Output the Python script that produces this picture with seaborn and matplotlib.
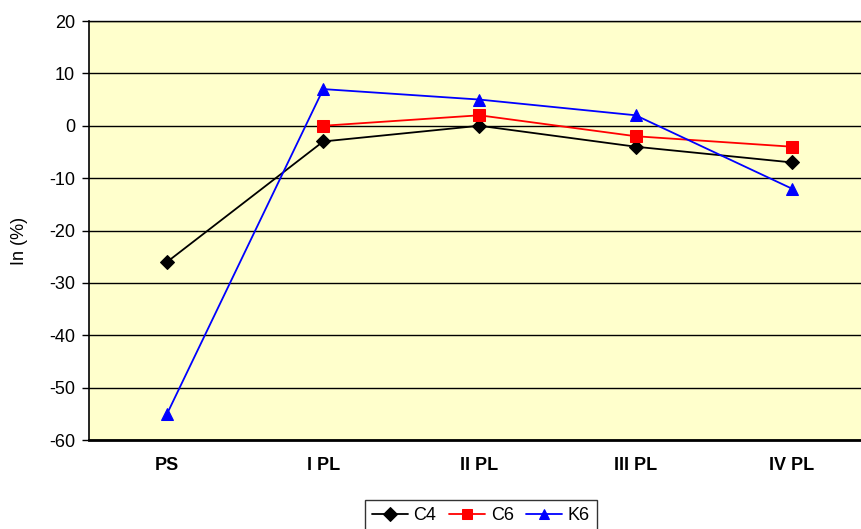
import numpy as np
import pandas as pd
import matplotlib
matplotlib.use("Agg")
import matplotlib.pyplot as plt
import seaborn as sns

categories = ["PS", "I PL", "II PL", "III PL", "IV PL"]
c4 = [-26, -3, 0, -4, -7]
c6 = [np.nan, 0, 2, -2, -4]
k6 = [-55, 7, 5, 2, -12]
series_names = ["C4", "C6", "K6"]
y_ticks = [20, 10, 0, -10, -20, -30, -40, -50, -60]

sns.set_theme(style="white")
plt.rcParams["font.family"] = ["Liberation Sans", "DejaVu Sans"]
plt.rcParams["axes.unicode_minus"] = False
plt.rcParams["text.color"] = "black"
plt.rcParams["axes.labelcolor"] = "black"
plt.rcParams["xtick.color"] = "black"
plt.rcParams["ytick.color"] = "black"

df = pd.DataFrame({
    "stage": categories * 3,
    "value": c4 + c6 + k6,
    "series": [s for s in series_names for _ in categories],
})

fig = plt.figure(figsize=(8.62, 5.29), dpi=100)
ax = fig.add_axes([0.1032, 0.1682, 0.906, 0.7921])
ax.set_facecolor("#FFFFCC")

palette = {"C4": "black", "C6": "#FF0000", "K6": "#0000FF"}
markers = {"C4": "D", "C6": "s", "K6": "^"}
sizes = {"C4": 7, "C6": 9, "K6": 9}

for name in series_names:
    sub = df[df["series"] == name].dropna()
    sns.lineplot(data=sub, x="stage", y="value", ax=ax, color=palette[name],
                 marker=markers[name], markersize=sizes[name],
                 markeredgecolor=palette[name], linewidth=1.3,
                 label=name, sort=False, legend=False)

ax.set_xlim(-0.5, 4.5)
ax.set_ylim(-60, 20)
ax.set_yticks(y_ticks)
ax.set_xticks(range(len(categories)))
ax.set_xticklabels(categories, fontweight="bold", fontsize=13)
ax.tick_params(axis="y", labelsize=13, length=5, width=1, direction="out",
               left=True, color="black", pad=5)
ax.tick_params(axis="x", length=0, pad=12)
ax.yaxis.grid(True, color="black", linewidth=1)
ax.xaxis.grid(False)
for side, sp in ax.spines.items():
    sp.set_color("black")
ax.spines["left"].set_linewidth(1.2)
ax.spines["bottom"].set_linewidth(2)
ax.spines["top"].set_linewidth(1)
ax.spines["right"].set_visible(False)
ax.set_xlabel("")
ax.set_ylabel("In (%)", fontsize=13)
ax.yaxis.set_label_coords(-0.078, 0.474)

handles, labels = ax.get_legend_handles_labels()
leg = fig.legend(handles, labels, loc="upper center", bbox_to_anchor=(0.558, 0.0548),
                 ncol=3, frameon=True, fancybox=False, fontsize=13,
                 handlelength=2.0, handletextpad=0.3, columnspacing=0.7,
                 borderpad=0.4, borderaxespad=0)
leg.get_frame().set_edgecolor("black")
leg.get_frame().set_linewidth(1)
for h in leg.legend_handles:
    h.set_markersize(7)

fig.savefig("out.png", dpi=100)
